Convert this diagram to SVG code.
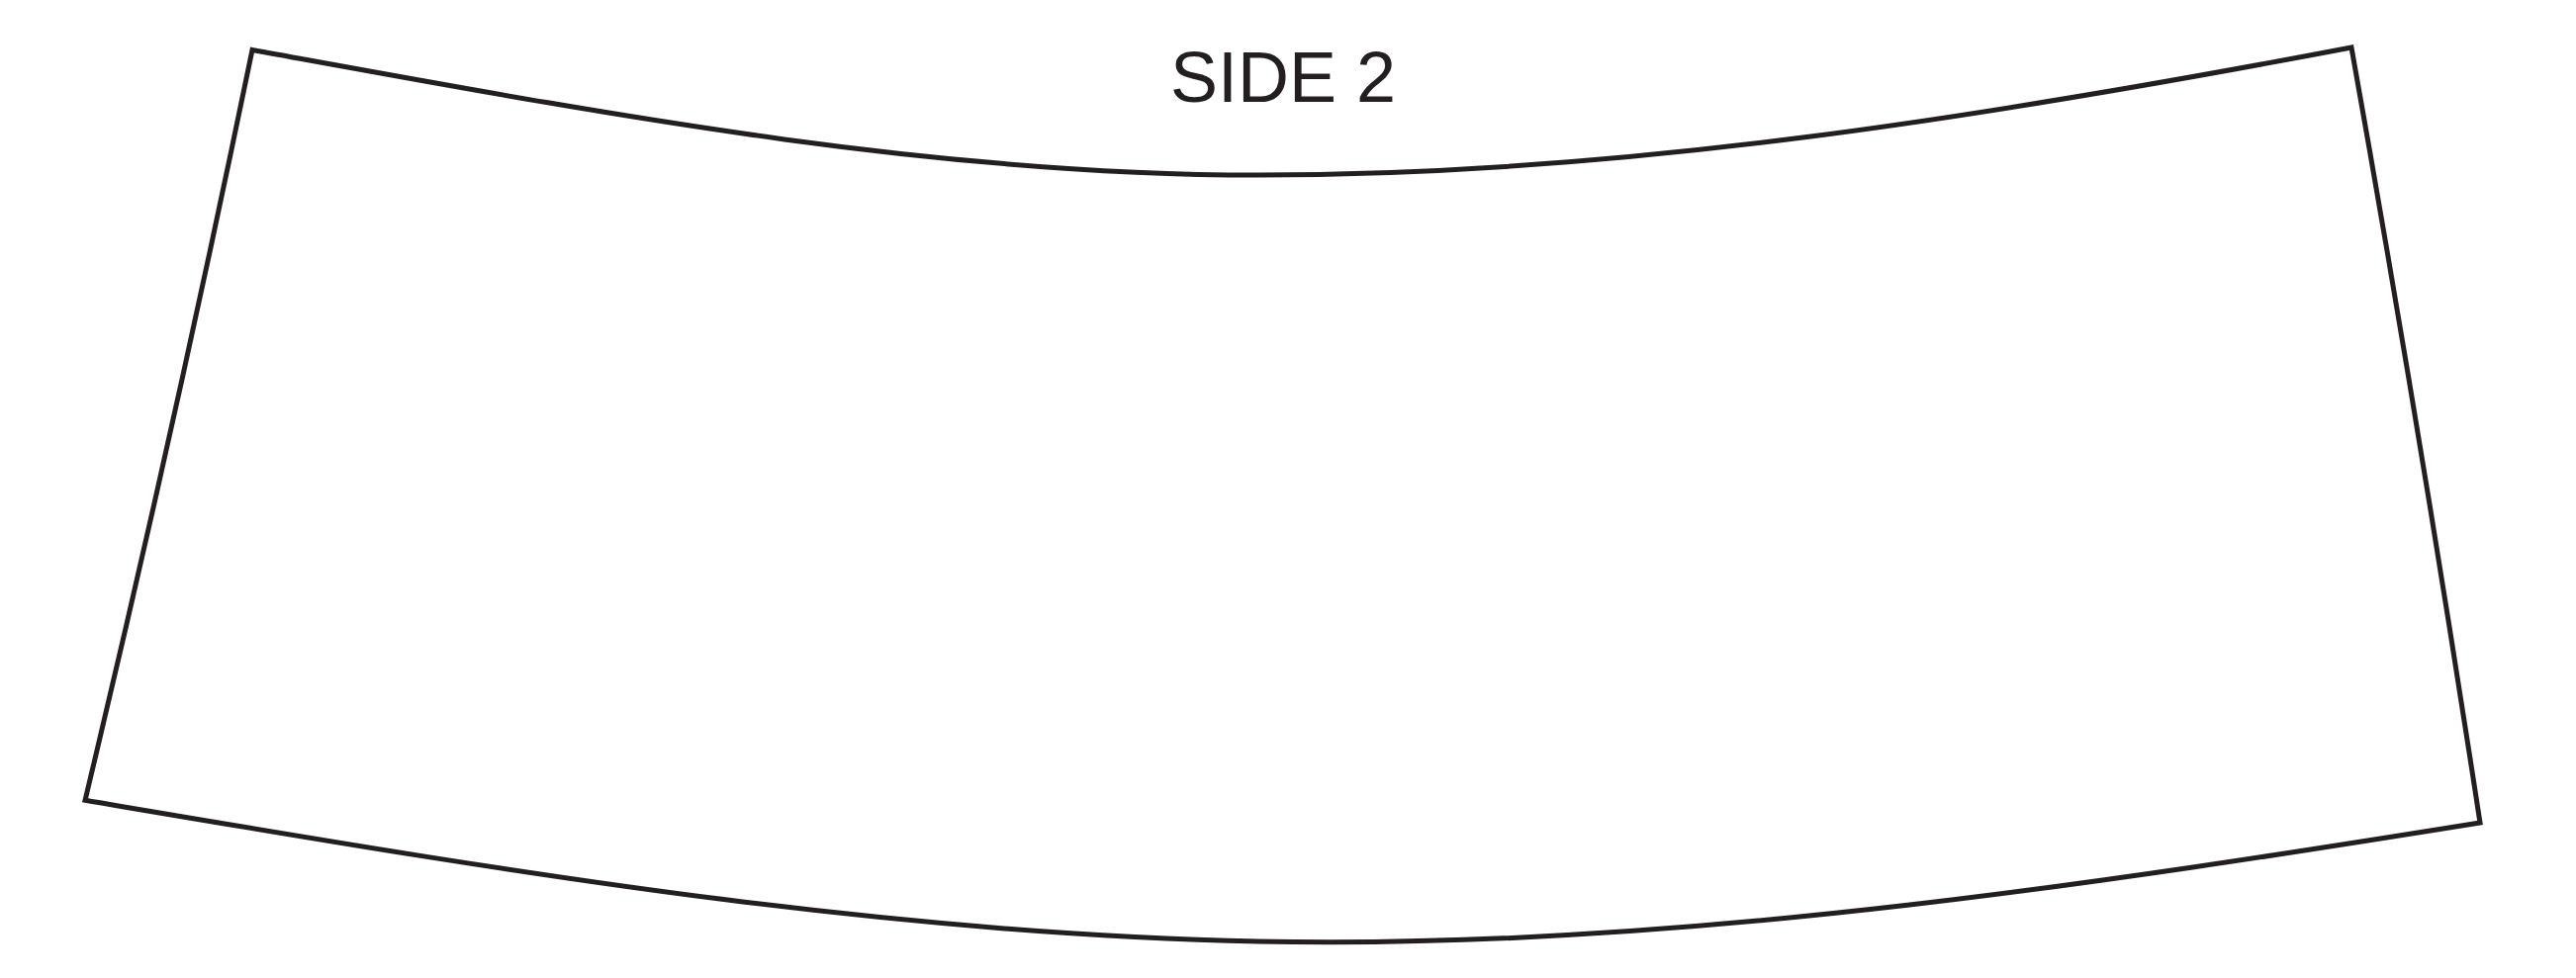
<svg xmlns="http://www.w3.org/2000/svg" width="2604" height="989" viewBox="0 0 2604 989">
  <style>
    .outline { fill: #ffffff; stroke: #231f20; stroke-width: 5; stroke-linejoin: miter; stroke-miterlimit: 10; }
    .label { font-family: "Liberation Sans", Arial, sans-serif; font-size: 72px; fill: #231f20; }
  </style>
  <rect width="2604" height="989" fill="#ffffff"/>
  <g id="sleeve">
    <path class="outline" d="M 255 50.5 C 595 112 932 177 1272 177 C 1640 177 2009 118 2377 48 Q 2447 440 2507 832 C 2120 894 1732 952.7 1345 952.7 C 925 952.7 506 880 86 809.3 Q 177 430 255 50.5 Z"/>
  </g>
  <g id="label-side2">
    <text class="label" x="1297" y="103" text-anchor="middle">SIDE 2</text>
  </g>
  <g id="connectors"></g>
</svg>
